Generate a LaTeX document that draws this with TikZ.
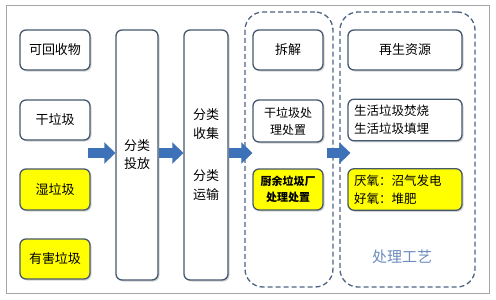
\documentclass[tikz,border=0pt]{standalone}
\usepackage{fontspec}
\setmainfont{Noto Sans CJK SC}
\usetikzlibrary{shadows,arrows.meta,calc}
\definecolor{edge}{HTML}{46586E}
\definecolor{ablue}{HTML}{3D72B8}
\definecolor{dashc}{HTML}{4F6382}
\definecolor{craft}{HTML}{6A8CBD}
\definecolor{yel}{HTML}{FFFF00}
\begin{document}
\begin{tikzpicture}[x=1pt,y=-1pt,
  box/.style={draw=edge, line width=1.3pt, rounded corners=6pt, fill=white,
    drop shadow={shadow xshift=1.5pt, shadow yshift=-1.5pt, opacity=0.35},
    inner sep=1pt, font=\fontsize{13}{16}\selectfont, align=center},
  ybox/.style={box, fill=yel},
  grp/.style={draw=dashc, line width=1.3pt, dash pattern=on 5pt off 3pt, rounded corners=18pt},
  barrow/.style={draw=ablue, line width=10pt, -{Triangle[width=21pt,length=11pt]}}]
\useasboundingbox (0,0) rectangle (496,300);
\draw[gray!70, line width=0.8pt] (6,5) rectangle (489,293);
% groups
\node[grp, minimum width=88pt, minimum height=275pt] (g1) at (289,149.5) {};
\node[grp, minimum width=135pt, minimum height=275pt] (g2) at (407.5,149.5) {};
% left column
\node[box, minimum width=70pt, minimum height=40pt] (kh) at (55,50) {可回收物};
\node[box, minimum width=70pt, minimum height=40pt] (gl) at (55,120) {干垃圾};
\node[ybox, minimum width=70pt, minimum height=41pt] (sl) at (55,189.5) {湿垃圾};
\node[ybox, minimum width=70pt, minimum height=40pt] (yh) at (55,259) {有害垃圾};
% tall boxes
\node[box, minimum width=42pt, minimum height=250pt] (tp) at (137,155) {分类\\[2pt]投放};
\node[box, minimum width=44pt, minimum height=250pt] (sc) at (206,155) {分类\\[3pt]收集\\[26pt]分类\\[3pt]运输};
% group 1
\node[box, minimum width=70pt, minimum height=40pt] (cj) at (288,50) {拆解};
\node[box, minimum width=70pt, minimum height=42pt, font=\fontsize{12}{17}\selectfont] (gc) at (288,121) {干垃圾处\\理处置};
\node[ybox, minimum width=70pt, minimum height=41pt, font=\fontsize{11}{16}\selectfont\bfseries] (cy) at (288,189.5) {厨余垃圾厂\\处理处置};
% group 2
\node[box, minimum width=114pt, minimum height=40pt] (zs) at (405,50) {再生资源};
\node[box, minimum height=40pt, text width=102pt, inner sep=6pt, align=left, font=\fontsize{12.5}{18}\selectfont] (sh) at (405,120) {生活垃圾焚烧\\生活垃圾填埋};
\node[ybox, minimum height=41pt, text width=102pt, inner sep=6pt, align=left, font=\fontsize{12.5}{18}\selectfont] (yy) at (405,189.5) {厌氧：沼气发电\\好氧：堆肥};
\node[text=craft, font=\fontsize{15}{18}\selectfont] (gy) at (402,257) {处理工艺};
% arrows
\coordinate (s0) at (88,153);
\draw[barrow] (s0) -- (tp.west |- s0);
\draw[barrow] (tp.east |- s0) -- (sc.west |- s0);
\draw[barrow] (sc.east |- s0) -- ($(g1.west |- s0)+(8,0)$);
\draw[barrow] ($(g1.east |- s0)+(-7,0)$) -- ($(g2.west |- s0)+(11,0)$);
\end{tikzpicture}
\end{document}
